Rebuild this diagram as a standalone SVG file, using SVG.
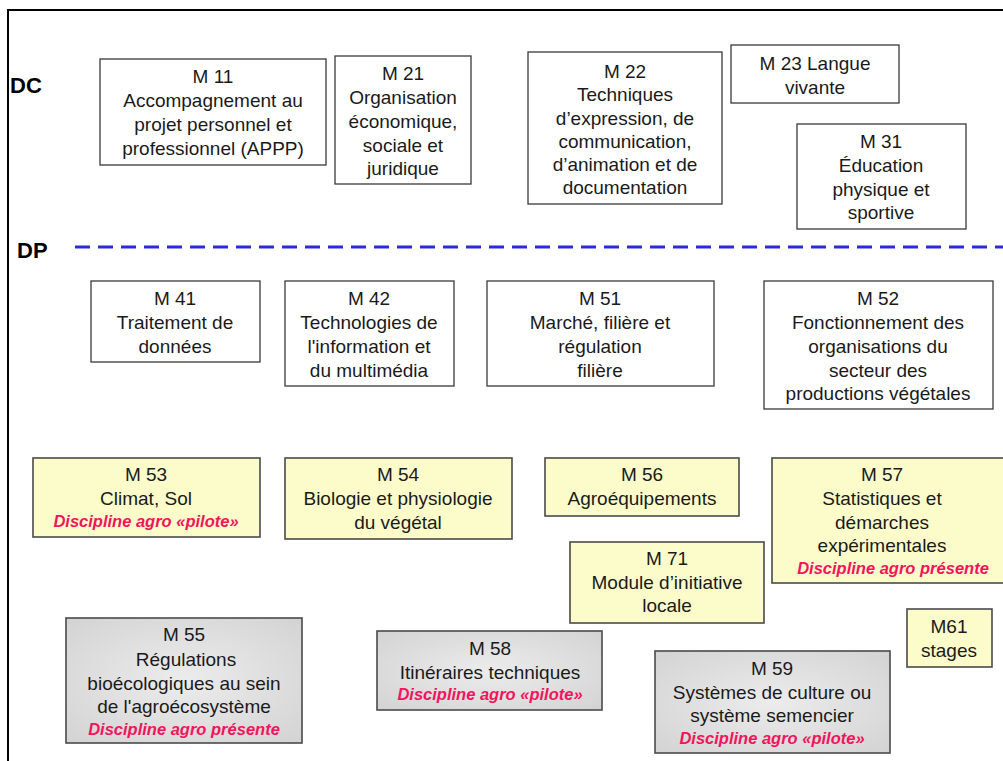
<svg xmlns="http://www.w3.org/2000/svg" width="1003" height="761" viewBox="0 0 1003 761">
<style>
text{font-family:"Liberation Sans",Arial,sans-serif;font-size:19px;fill:#1a1a1a;text-anchor:middle}
.lbl{font-size:22px;font-weight:bold;text-anchor:start;fill:#000}
.red{font-size:16.5px;font-weight:bold;font-style:italic;fill:#f2145c}
.w{fill:#fff;stroke:#3a3a3a;stroke-width:1.3}
.y{fill:#fcfccb;stroke:#4a4a4a;stroke-width:1.6}
.g{fill:url(#gg);stroke:#4a4a4a;stroke-width:1.6}
</style>
<defs>
<radialGradient id="gg" cx="0.5" cy="0.5" r="0.7">
<stop offset="0" stop-color="#ececec"/>
<stop offset="1" stop-color="#d3d3d3"/>
</radialGradient>
</defs>
<rect x="0" y="0" width="1003" height="761" fill="#fff"/>
<rect x="8" y="10" width="1010" height="770" fill="none" stroke="#000" stroke-width="2"/>
<text class="lbl" x="10" y="93">DC</text>
<text class="lbl" x="17" y="258">DP</text>
<g id="connectors">
<line x1="75" y1="247" x2="1003" y2="247" stroke="#2a2ae0" stroke-width="3" stroke-dasharray="15 8"/>
</g>
<g id="M11"><rect class="w" x="100" y="59" width="226" height="106"/>
<text x="213" y="83">M 11</text><text x="213" y="107">Accompagnement au</text><text x="213" y="131">projet personnel et</text><text x="213" y="155">professionnel (APPP)</text></g>
<g id="M21"><rect class="w" x="335" y="56" width="136" height="128"/>
<text x="403" y="80">M 21</text><text x="403" y="104">Organisation</text><text x="403" y="128">économique,</text><text x="403" y="152">sociale et</text><text x="403" y="175">juridique</text></g>
<g id="M22"><rect class="w" x="528" y="52" width="194" height="152"/>
<text x="625" y="78">M 22</text><text x="625" y="101">Techniques</text><text x="625" y="125">d’expression, de</text><text x="625" y="148">communication,</text><text x="625" y="171">d’animation et de</text><text x="625" y="194">documentation</text></g>
<g id="M23"><rect class="w" x="731" y="45" width="168" height="58"/>
<text x="815" y="70">M 23 Langue</text><text x="815" y="94">vivante</text></g>
<g id="M31"><rect class="w" x="797" y="124" width="169" height="105"/>
<text x="881" y="148">M 31</text><text x="881" y="172">Éducation</text><text x="881" y="196">physique et</text><text x="881" y="219">sportive</text></g>
<g id="M41"><rect class="w" x="91" y="281" width="169" height="81"/>
<text x="175" y="305">M 41</text><text x="175" y="329">Traitement de</text><text x="175" y="353">données</text></g>
<g id="M42"><rect class="w" x="285" y="281" width="169" height="105"/>
<text x="369" y="305">M 42</text><text x="369" y="329">Technologies de</text><text x="369" y="353">l'information et</text><text x="369" y="377">du multimédia</text></g>
<g id="M51"><rect class="w" x="487" y="281" width="227" height="105"/>
<text x="600" y="305">M 51</text><text x="600" y="329">Marché, filière et</text><text x="600" y="353">régulation</text><text x="600" y="377">filière</text></g>
<g id="M52"><rect class="w" x="764" y="281" width="229" height="128"/>
<text x="878" y="305">M 52</text><text x="878" y="329">Fonctionnement des</text><text x="878" y="353">organisations du</text><text x="878" y="377">secteur des</text><text x="878" y="400">productions végétales</text></g>
<g id="M53"><rect class="y" x="33" y="458" width="227" height="79"/>
<text x="146" y="481">M 53</text><text x="146" y="505">Climat, Sol</text><text class="red" x="146" y="527">Discipline agro «pilote»</text></g>
<g id="M54"><rect class="y" x="285" y="458" width="227" height="81"/>
<text x="398" y="481">M 54</text><text x="398" y="505">Biologie et physiologie</text><text x="398" y="529">du végétal</text></g>
<g id="M56"><rect class="y" x="545" y="458" width="194" height="58"/>
<text x="642" y="481">M 56</text><text x="642" y="505">Agroéquipements</text></g>
<g id="M57"><rect class="y" x="772" y="458" width="245" height="125"/>
<text x="882" y="481">M 57</text><text x="882" y="505">Statistiques et</text><text x="882" y="529">démarches</text><text x="882" y="552">expérimentales</text><text class="red" x="893" y="574">Discipline agro présente</text></g>
<g id="M71"><rect class="y" x="570" y="542" width="194" height="81"/>
<text x="667" y="565">M 71</text><text x="667" y="589">Module d’initiative</text><text x="667" y="612">locale</text></g>
<g id="M61"><rect class="y" x="907" y="609" width="85" height="58"/>
<text x="949" y="633">M61</text><text x="949" y="657">stages</text></g>
<g id="M55"><rect class="g" x="66" y="618" width="236" height="125"/>
<text x="184" y="641">M 55</text><text x="186" y="666">Régulations</text><text x="184" y="690">bioécologiques au sein</text><text x="184" y="713">de l'agroécosystème</text><text class="red" x="184" y="735">Discipline agro présente</text></g>
<g id="M58"><rect class="g" x="377" y="631" width="225" height="79"/>
<text x="490" y="655">M 58</text><text x="490" y="679">Itinéraires techniques</text><text class="red" x="490" y="700">Discipline agro «pilote»</text></g>
<g id="M59"><rect class="g" x="655" y="651" width="235" height="102"/>
<text x="772" y="675">M 59</text><text x="772" y="699">Systèmes de culture ou</text><text x="772" y="722">système semencier</text><text class="red" x="772" y="744">Discipline agro «pilote»</text></g>
</svg>
